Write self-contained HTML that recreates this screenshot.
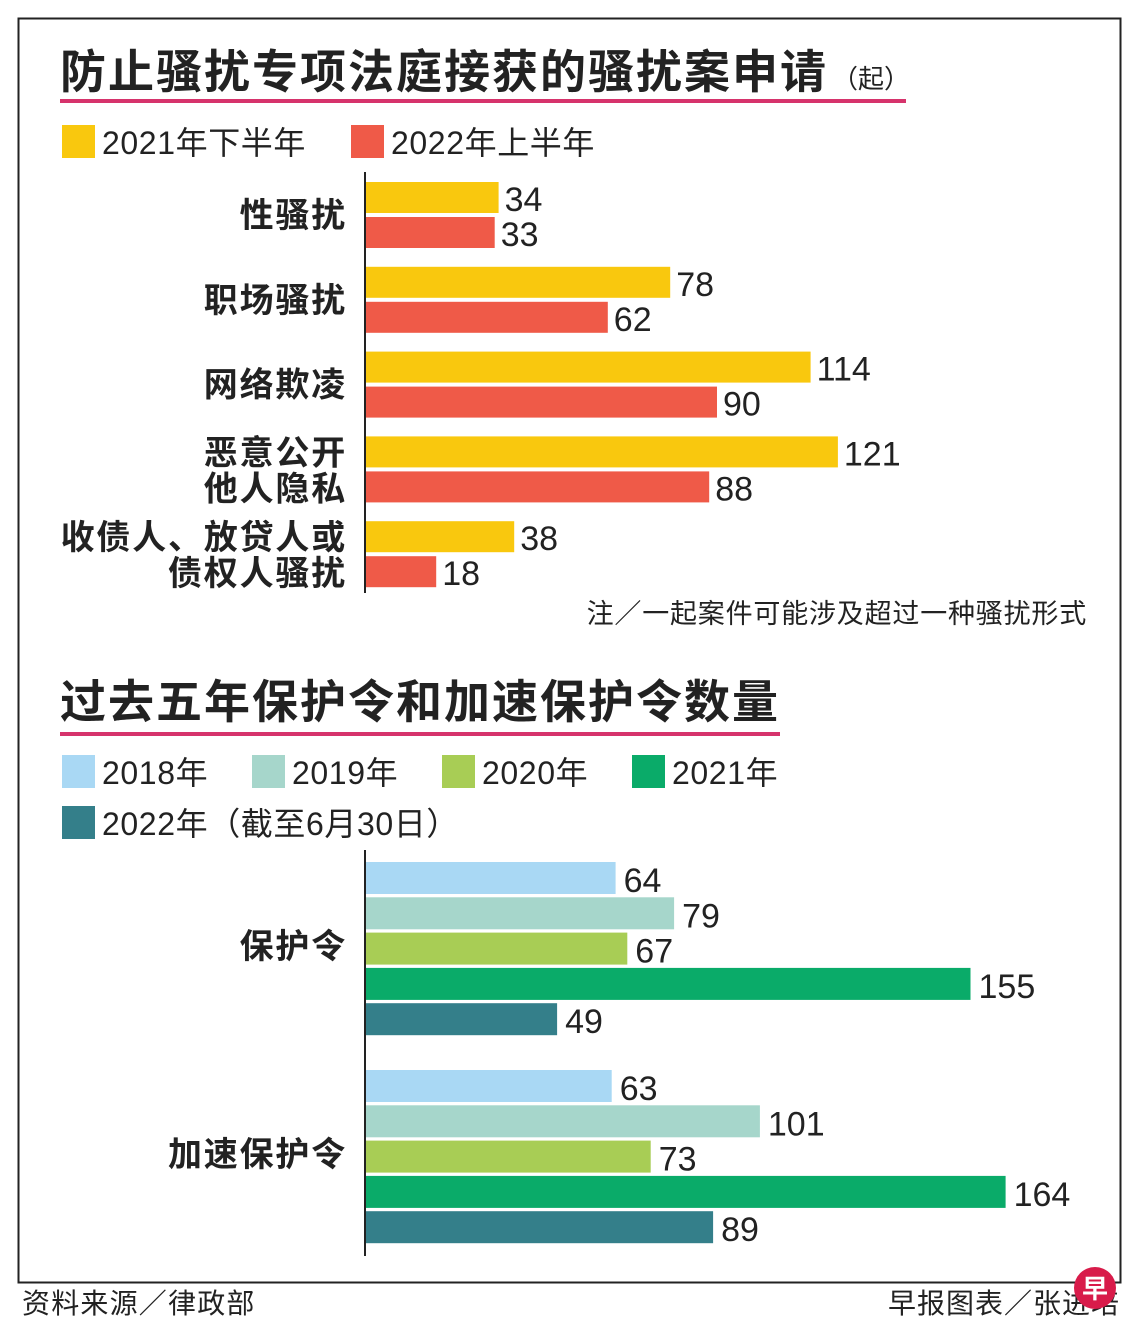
<!DOCTYPE html>
<html><head><meta charset="utf-8">
<style>
html,body{margin:0;padding:0;background:#fff;}
svg{display:block;font-family:"Liberation Sans","Noto Sans CJK SC",sans-serif;}
</style></head>
<body>
<svg id="chart" width="1140" height="1340" viewBox="0 0 1140 1340" xmlns="http://www.w3.org/2000/svg">
  <rect x="18.5" y="18.5" width="1102" height="1264" fill="#fff" stroke="#222" stroke-width="2"/>
  <text x="60" y="88" font-size="46" font-weight="bold" letter-spacing="2" fill="#222" font-family="Noto Sans CJK SC, sans-serif">防止骚扰专项法庭接获的骚扰案申请<tspan font-size="26" font-weight="normal" letter-spacing="0" dx="4">（起）</tspan></text>
  <rect x="60" y="99" width="846" height="4" fill="#d6336c"/>
  <rect x="62" y="125" width="33" height="33" fill="#f9c80e"/>
  <text x="102" y="154" font-size="32" letter-spacing="0.6" fill="#222">2021年下半年</text>
  <rect x="351" y="125" width="33" height="33" fill="#ef5a48"/>
  <text x="391" y="154" font-size="32" letter-spacing="0.6" fill="#222">2022年上半年</text>
  <line x1="365" y1="172" x2="365" y2="593" stroke="#222" stroke-width="2"/>
  <g id="c1"></g>
  <text x="1087" y="623" font-size="27" letter-spacing="0.8" fill="#222" text-anchor="end">注／一起案件可能涉及超过一种骚扰形式</text>

  <text x="60" y="718" font-size="46" font-weight="bold" letter-spacing="2" fill="#222" font-family="Noto Sans CJK SC, sans-serif">过去五年保护令和加速保护令数量</text>
  <rect x="60" y="732" width="720" height="4" fill="#d6336c"/>
  <g id="leg2"></g>
  <line x1="365" y1="850" x2="365" y2="1256" stroke="#222" stroke-width="2"/>
  <g id="c2"></g>

  <text x="22" y="1313" font-size="28" letter-spacing="1.2" fill="#222">资料来源／律政部</text>
  <text x="1120" y="1313" font-size="28" letter-spacing="1" fill="#222" text-anchor="end">早报图表／张进培</text>
  <circle cx="1095" cy="1288" r="21" fill="#d81b4a"/>
  <text x="1095" y="1298" font-size="26" font-weight="bold" fill="#fff" text-anchor="middle">早</text>
</svg>
<script>
// Chart 1 data
const cats1 = [["性骚扰"],["职场骚扰"],["网络欺凌"],["恶意公开","他人隐私"],["收债人、放贷人或","债权人骚扰"]];
const series1A = [34, 78, 114, 121, 38];
const series1B = [33, 62, 90, 88, 18];
// Chart 2 data
const cats2 = ["保护令", "加速保护令"];
const years2 = ["2018年","2019年","2020年","2021年","2022年（截至6月30日）"];
const vals2018 = [64, 63];
const vals2019 = [79, 101];
const vals2020 = [67, 73];
const vals2021 = [155, 164];
const vals2022 = [49, 89];

const NS = "http://www.w3.org/2000/svg";
const X0 = 366, K = 3.9;
function xScale(v){ return X0 + v*K; }
function mk(tag, attrs, parent, txt){
  const e = document.createElementNS(NS, tag);
  for (const k in attrs) e.setAttribute(k, attrs[k]);
  if (txt !== undefined) e.textContent = txt;
  parent.appendChild(e); return e;
}
const c1 = document.getElementById('c1');
const colA = "#f9c80e", colB = "#ef5a48";
function y1(i){ return 182 + i*84.8; }
cats1.forEach((lines, i) => {
  const y = y1(i);
  [[series1A[i], colA, y, 'a'], [series1B[i], colB, y+35, 'b']].forEach(([v, c, yy, s]) => {
    const r = mk('rect', {x: X0, y: yy, width: xScale(v)-X0, height: 31, fill: c}, c1);
    
    
    const t = mk('text', {x: xScale(v)+6, y: yy+29, 'font-size': 34, fill: '#222'}, c1, String(v));
    
    
  });
  const mid = y + 33;
  const n = lines.length;
  lines.forEach((ln, j) => {
    const yy = n === 1 ? mid + 12 : mid - 5 + (j)*36;
    const t = mk('text', {x: 347, y: yy, 'font-size': 34, 'letter-spacing': 1.8, 'font-weight': 'bold', fill: '#222', 'text-anchor': 'end', 'font-family': 'Noto Sans CJK SC, sans-serif'}, c1, ln);
    
    
  });
});

const cols2 = ["#a9d8f4", "#a6d6cb", "#a8cd55", "#0aab69", "#347f8a"];
const leg = document.getElementById('leg2');
const legPos = [[62,755],[252,755],[442,755],[632,755],[62,806]];
years2.forEach((y, i) => {
  const [lx, ly] = legPos[i];
  const r = mk('rect', {x: lx, y: ly, width: 33, height: 33, fill: cols2[i]}, leg);
  
  
  const t = mk('text', {x: lx+40, y: ly+29, 'font-size': 32, 'letter-spacing': 0.6, fill: '#222'}, leg, y);
  
  
});
const c2 = document.getElementById('c2');
const all2 = [vals2018, vals2019, vals2020, vals2021, vals2022];
cats2.forEach((cat, i) => {
  const gy = 862 + i*208;
  all2.forEach((arr, s) => {
    const v = arr[i];
    const yy = gy + s*35.3;
    const r = mk('rect', {x: X0, y: yy, width: xScale(v)-X0, height: 32, fill: cols2[s]}, c2);
    
    
    const t = mk('text', {x: xScale(v)+8, y: yy+30, 'font-size': 34, fill: '#222'}, c2, String(v));
    
    
  });
  const t = mk('text', {x: 347, y: gy + 96, 'font-size': 34, 'letter-spacing': 1.8, 'font-weight': 'bold', fill: '#222', 'text-anchor': 'end', 'font-family': 'Noto Sans CJK SC, sans-serif'}, c2, cat);
  
  
});
</script>
</body></html>
